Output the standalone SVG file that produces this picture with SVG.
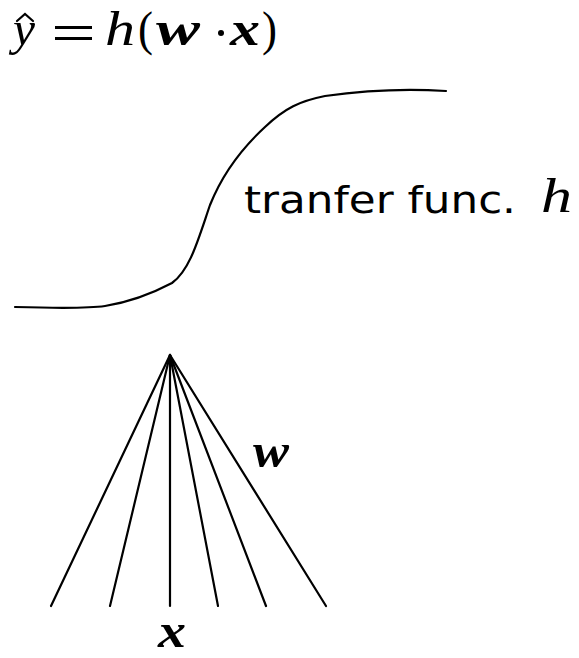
<svg xmlns="http://www.w3.org/2000/svg" width="579" height="658" viewBox="0 0 579 658">
<style>
.ln{stroke:#000;stroke-width:2.2;fill:none;stroke-linecap:round}
.m{font-family:"Liberation Serif","DejaVu Serif",serif;font-style:italic;font-size:48px;fill:#000}
.b{font-weight:bold}
.r{font-family:"Liberation Serif","DejaVu Serif",serif;font-size:48px;fill:#000}
.s{font-family:"DejaVu Sans","Liberation Sans",sans-serif;font-size:38px;fill:#000}
</style>
<rect width="579" height="658" fill="#fff"/>
<g id="title">
<text class="m" x="13" y="45" textLength="22" lengthAdjust="spacingAndGlyphs">y</text>
<path d="M17,21 L25,14 L33,21" class="ln" stroke-width="2"/>
<rect x="55" y="26" width="37" height="3" fill="#000"/>
<rect x="55" y="37" width="37" height="3" fill="#000"/>
<text class="m" x="105" y="45" textLength="30" lengthAdjust="spacingAndGlyphs">h</text>
<text class="r" x="138" y="45" textLength="15" lengthAdjust="spacingAndGlyphs">(</text>
<text class="m b" x="156" y="45" textLength="44" lengthAdjust="spacingAndGlyphs">w</text>
<circle cx="221" cy="33" r="3" fill="#000"/>
<text class="m b" x="230" y="45" textLength="30" lengthAdjust="spacingAndGlyphs">x</text>
<text class="r" x="262" y="45" textLength="15" lengthAdjust="spacingAndGlyphs">)</text>
</g>
<g id="transfer">
<path class="ln" d="M15,307 C50,308 85,309 105,306 C130,302 155,292 172,283 C190,270 198,240 210,205 C222,175 240,150 265,127 C285,108 300,101 325,96 C360,91 400,88 446,91"/>
<text class="s" x="244" y="213" textLength="272" lengthAdjust="spacingAndGlyphs">tranfer func.</text>
<text class="m" x="541" y="212" textLength="31" lengthAdjust="spacingAndGlyphs">h</text>
</g>
<g id="connectors">
<line class="ln" x1="170" y1="355" x2="51" y2="606"/>
<line class="ln" x1="170" y1="355" x2="110" y2="606"/>
<line class="ln" x1="170" y1="355" x2="170" y2="606"/>
<line class="ln" x1="170" y1="355" x2="218" y2="606"/>
<line class="ln" x1="170" y1="355" x2="266" y2="606"/>
<line class="ln" x1="170" y1="355" x2="326" y2="606"/>
</g>
<g id="w-label"><text class="m b" x="253" y="467" font-size="52" textLength="36" lengthAdjust="spacingAndGlyphs">w</text></g>
<g id="x-label"><text class="m b" x="158" y="647" font-size="44" textLength="28" lengthAdjust="spacingAndGlyphs">x</text></g>
</svg>
